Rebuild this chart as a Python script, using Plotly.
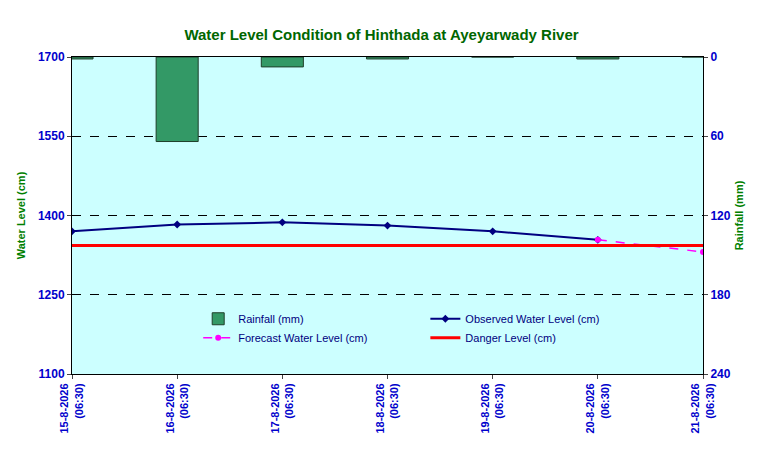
import plotly.graph_objects as go

dates = ["15-8-2026", "16-8-2026", "17-8-2026", "18-8-2026", "19-8-2026", "20-8-2026", "21-8-2026"]
observed = [1370, 1383, 1387, 1381, 1370, 1354]
forecast_x = [5, 6]
forecast = [1354, 1331]
danger = 1343
rainfall = [1.5, 64, 7.5, 1.5, 0, 1.5, 0]
left_ticks = [1100, 1250, 1400, 1550, 1700]
right_ticks = [0, 60, 120, 180, 240]

xs = list(range(len(dates)))
ticktext = ["<b>" + d + "<br>(06:30)</b>" for d in dates]

fig = go.Figure()
fig.add_trace(go.Bar(x=xs, y=rainfall, yaxis="y2", name="Rainfall (mm)", width=0.4,
                     marker=dict(color="#339966", line=dict(color="#1f3f2a", width=1))))
fig.add_trace(go.Scatter(x=xs[:len(observed)], y=observed, name="Observed Water Level (cm)",
                         mode="lines+markers", line=dict(color="#000080", width=2),
                         marker=dict(symbol="diamond", size=6, color="#000080")))
fig.add_trace(go.Scatter(x=forecast_x, y=forecast, name="Forecast Water Level (cm)",
                         mode="lines+markers", line=dict(color="#FF00FF", width=1.5, dash="dash"),
                         marker=dict(size=6, color="#FF00FF")))
fig.add_trace(go.Scatter(x=[0, 6], y=[danger, danger], name="Danger Level (cm)", mode="lines",
                         line=dict(color="#FF0000", width=3)))

fig.update_layout(
    width=747, height=438,
    margin=dict(l=64, r=49, t=49, b=65),
    paper_bgcolor="white", plot_bgcolor="#CCFFFF",
    font=dict(family="Arial, Liberation Sans", size=11, color="#0000CC"),
    title=dict(text="<b>Water Level Condition of Hinthada at Ayeyarwady River</b>", x=0.5, y=0.95,
               font=dict(size=15, color="#006600")),
    xaxis=dict(range=[0, 6], tickvals=xs, ticktext=ticktext, tickangle=-90, showgrid=False,
               tickfont=dict(size=11, color="#0000CC"), ticks="outside", ticklen=4,
               showline=True, linecolor="black", mirror=True),
    yaxis=dict(range=[1100, 1700], tickvals=left_ticks,
               ticktext=["<b>%d</b>" % v for v in left_ticks],
               title=dict(text="<b>Water Level (cm)</b>", font=dict(size=11, color="#008000"), standoff=10),
               tickfont=dict(size=12, color="#0000CC"), showgrid=True, gridcolor="black",
               griddash="dash", gridwidth=1, showline=True, linecolor="black", ticks="outside",
               ticklen=4, zeroline=False),
    yaxis2=dict(range=[240, 0], tickvals=right_ticks, ticktext=["<b>%d</b>" % v for v in right_ticks],
                overlaying="y", side="right",
                title=dict(text="<b>Rainfall (mm)</b>", font=dict(size=11, color="#008000"), standoff=5),
                tickfont=dict(size=12, color="#0000CC"), showgrid=False, showline=True,
                linecolor="black", ticks="outside", ticklen=4, zeroline=False),
    legend=dict(orientation="h", x=0.2, y=0.22, xanchor="left", yanchor="top",
                entrywidth=0.36, entrywidthmode="fraction", bgcolor="rgba(0,0,0,0)",
                font=dict(size=11, color="#000080")),
    bargap=0.6,
)
fig.write_html("out.html")
